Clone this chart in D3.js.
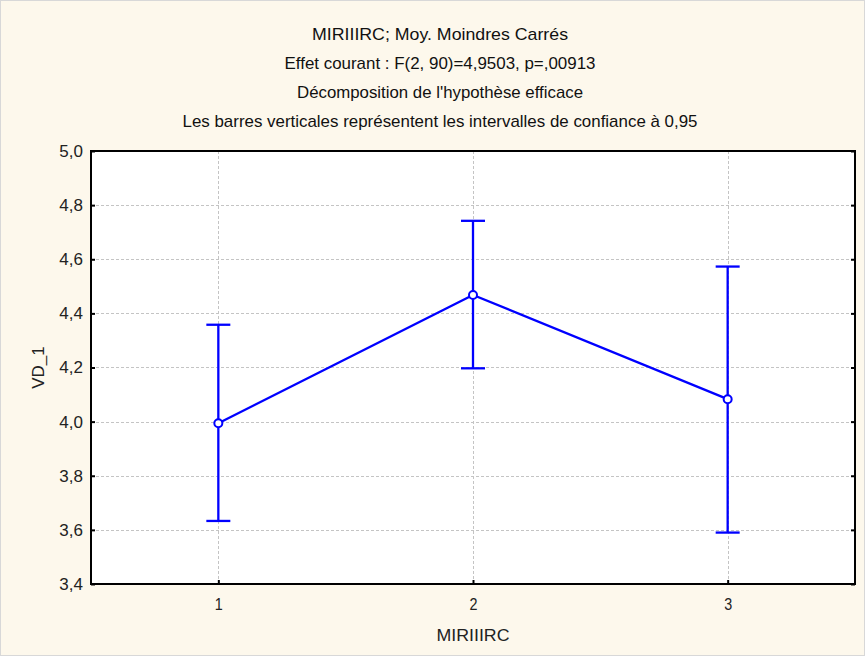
<!DOCTYPE html>
<html><head><meta charset="utf-8">
<script src="https://cdn.jsdelivr.net/npm/d3@7"></script>
<style>
html,body{margin:0;padding:0;background:#fdf8ec;}
svg{display:block;}
</style></head>
<body>
<script>
const categories = [1, 2, 3];
const means = [3.994, 4.468, 4.083];
const ciLow = [3.633, 4.197, 3.590];
const ciHigh = [4.358, 4.742, 4.573];
const yTicks = [3.4, 3.6, 3.8, 4.0, 4.2, 4.4, 4.6, 4.8, 5.0];
const titles = [
  "MIRIIIRC; Moy. Moindres Carrés",
  "Effet courant : F(2, 90)=4,9503, p=,00913",
  "Décomposition de l'hypothèse efficace",
  "Les barres verticales représentent les intervalles de confiance à 0,95"
];
const xLabel = "MIRIIIRC";
const yLabel = "VD_1";

const W = 865, H = 656;
const m = {left: 91, right: 855, top: 151, bottom: 584};
const FONT = "Liberation Sans, Arial, sans-serif";
const svg = d3.select("body").append("svg").attr("width", W).attr("height", H);
svg.append("rect").attr("x",0.5).attr("y",0.5).attr("width",W-1).attr("height",H-1)
  .attr("fill","#fdf8ec").attr("stroke","#d8d8d8");

const x = d3.scaleLinear().domain([0.5, 3.5]).range([m.left, m.right]);
const y = d3.scaleLinear().domain([3.4, 5.0]).range([m.bottom, m.top]);

svg.append("rect").attr("x", m.left).attr("y", m.top)
  .attr("width", m.right - m.left).attr("height", m.bottom - m.top).attr("fill", "#fff");

// grid
const g = svg.append("g");
g.selectAll(".hg").data(yTicks.slice(1, -1)).join("line")
  .attr("x1", m.left).attr("x2", m.right)
  .attr("y1", d => Math.round(y(d)) + 0.5).attr("y2", d => Math.round(y(d)) + 0.5)
  .attr("stroke", "#c4c4c4").attr("stroke-dasharray", "3,2");
g.selectAll(".vg").data(categories).join("line")
  .attr("y1", m.top).attr("y2", m.bottom)
  .attr("x1", d => Math.round(x(d)) + 0.5).attr("x2", d => Math.round(x(d)) + 0.5)
  .attr("stroke", "#c4c4c4").attr("stroke-dasharray", "3,2");

// axes
const fmt = d => d3.format(".1f")(d).replace(".", ",");
const yAxis = svg.append("g").attr("transform", `translate(${m.left},0)`)
  .call(d3.axisLeft(y).tickValues(yTicks).tickFormat(fmt).tickSizeInner(-4).tickSizeOuter(0).tickPadding(8));
yAxis.select(".domain").remove();
yAxis.selectAll("text").attr("font-family", FONT).attr("font-size", 17).attr("fill", "#222");
yAxis.selectAll("line").attr("stroke", "#000").attr("stroke-width", 2);

const yAxisR = svg.append("g").attr("transform", `translate(${m.right},0)`)
  .call(d3.axisRight(y).tickValues(yTicks).tickFormat("").tickSizeInner(-4).tickSizeOuter(0));
yAxisR.select(".domain").remove();
yAxisR.selectAll("line").attr("stroke", "#000").attr("stroke-width", 2);

const xAxis = svg.append("g").attr("transform", `translate(0,${m.bottom})`)
  .call(d3.axisBottom(x).tickValues(categories).tickFormat(d3.format("d")).tickSizeInner(-4).tickSizeOuter(0).tickPadding(14));
xAxis.select(".domain").remove();
xAxis.selectAll("text").attr("font-family", FONT).attr("font-size", 17).attr("fill", "#222")
  .attr("textLength", 8).attr("lengthAdjust", "spacingAndGlyphs");
xAxis.selectAll("line").attr("stroke", "#000").attr("stroke-width", 2);

svg.append("rect").attr("x", m.left).attr("y", m.top)
  .attr("width", m.right - m.left).attr("height", m.bottom - m.top)
  .attr("fill", "none").attr("stroke", "#000").attr("stroke-width", 2);

// error bars
const data = categories.map((c, i) => ({c, m: means[i], lo: ciLow[i], hi: ciHigh[i]}));
const eb = svg.append("g").attr("stroke", "#0000ff").attr("stroke-width", 2.3);
eb.selectAll(".v").data(data).join("line")
  .attr("x1", d => x(d.c)).attr("x2", d => x(d.c))
  .attr("y1", d => y(d.lo)).attr("y2", d => y(d.hi));
eb.selectAll(".hc").data(data).join("line")
  .attr("x1", d => x(d.c) - 12).attr("x2", d => x(d.c) + 12)
  .attr("y1", d => y(d.hi)).attr("y2", d => y(d.hi));
eb.selectAll(".lc").data(data).join("line")
  .attr("x1", d => x(d.c) - 12).attr("x2", d => x(d.c) + 12)
  .attr("y1", d => y(d.lo)).attr("y2", d => y(d.lo));

svg.append("path").datum(data)
  .attr("d", d3.line().x(d => x(d.c)).y(d => y(d.m)))
  .attr("fill", "none").attr("stroke", "#0000ff").attr("stroke-width", 2.3);

svg.selectAll(".pt").data(data).join("circle")
  .attr("cx", d => x(d.c)).attr("cy", d => y(d.m)).attr("r", 4)
  .attr("fill", "#fff").attr("stroke", "#0000ff").attr("stroke-width", 2);

// titles (condensed look: widths matched to reference)
const tY = [40, 69, 98, 127];
const tW = [256, 311, 286, 515];
svg.selectAll(".title").data(titles).join("text")
  .attr("x", 440).attr("y", (d, i) => tY[i])
  .attr("text-anchor", "middle").attr("font-family", FONT).attr("font-size", 17).attr("fill", "#111")
  .attr("textLength", (d, i) => tW[i]).attr("lengthAdjust", "spacingAndGlyphs")
  .text(d => d);

svg.append("text")
  .attr("x", (m.left + m.right) / 2).attr("y", 641)
  .attr("text-anchor", "middle").attr("font-family", FONT).attr("font-size", 17).attr("fill", "#222")
  .attr("textLength", 73).attr("lengthAdjust", "spacingAndGlyphs").text(xLabel);

svg.append("text")
  .attr("transform", `translate(44,${(m.top + m.bottom) / 2}) rotate(-90)`)
  .attr("text-anchor", "middle").attr("font-family", FONT)
  .attr("font-size", 17).attr("fill", "#222").text(yLabel);
</script>
</body></html>
